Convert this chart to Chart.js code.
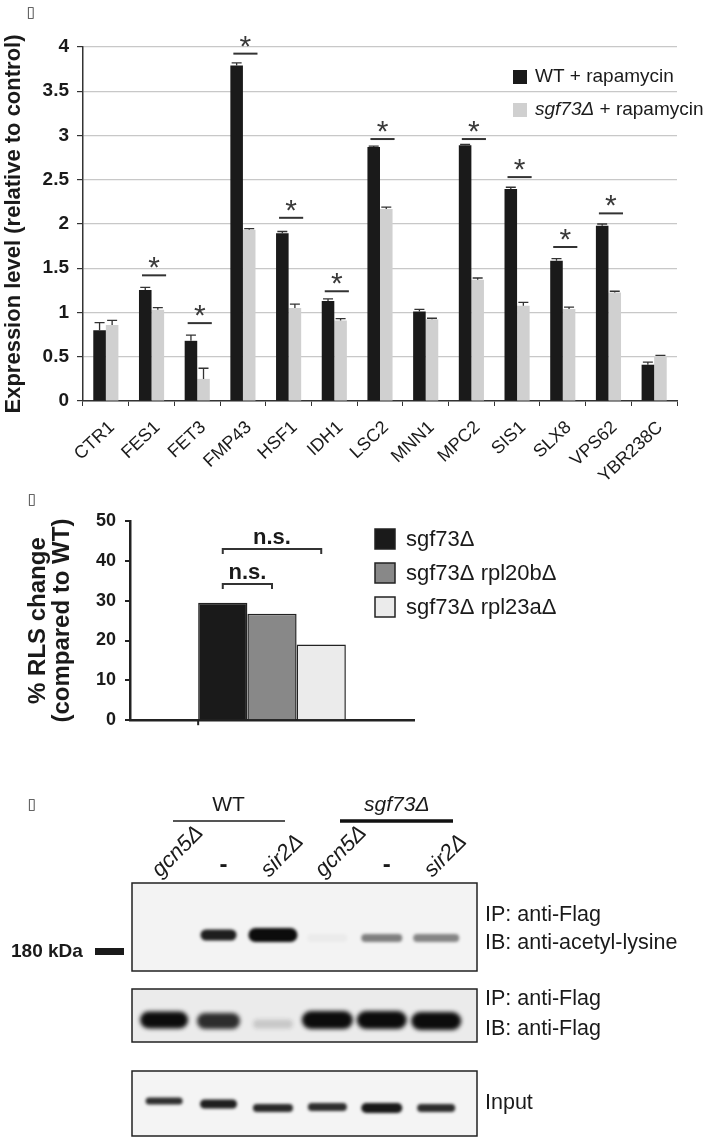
<!DOCTYPE html>
<html>
<script src="https://cdn.jsdelivr.net/npm/chart.js"></script>
<style type="text/css">
  body { margin: 0; background: #fff; }
  .panel { position: absolute; left: 0; width: 709px; }
</style>
<body>
  <div class="panel" style="top:0px;height:480px"><canvas id="chartA" width="709" height="480"></canvas></div>
  <div class="panel" style="top:480px;height:260px"><canvas id="chartB" width="709" height="260"></canvas></div>
  <div class="panel" style="top:740px;height:397px"><canvas id="chartC" width="709" height="397"></canvas></div>

  <script>
    // panel A - expression after rapamycin
    const genes = ['CTR1', 'FES1', 'FET3', 'FMP43', 'HSF1', 'IDH1', 'LSC2', 'MNN1', 'MPC2', 'SIS1', 'SLX8', 'VPS62', 'YBR238C'];
    const wtRapa  = [0.80, 1.255, 0.68, 3.79, 1.895, 1.13, 2.87, 1.01, 2.89, 2.395, 1.585, 1.98, 0.41];
    const wtErr   = [0.085, 0.03, 0.065, 0.03, 0.02, 0.025, 0.01, 0.025, 0.01, 0.02, 0.023, 0.02, 0.03];
    const sgfRapa = [0.86, 1.03, 0.25, 1.935, 1.05, 0.91, 2.17, 0.925, 1.37, 1.075, 1.04, 1.225, 0.51];
    const sgfErr  = [0.05, 0.025, 0.12, 0.012, 0.045, 0.02, 0.02, 0.01, 0.02, 0.04, 0.02, 0.015, 0.005];
    const sigLevel = [null, 1.42, 0.88, 3.925, 2.07, 1.24, 2.96, null, 2.96, 2.53, 1.74, 2.12, null];

    // panel B - RLS change
    const strains = ['sgf73Δ', 'sgf73Δ rpl20bΔ', 'sgf73Δ rpl23aΔ'];
    const rlsChange = [29.5, 26.7, 19.0];
    const nsBrackets = [{from: 0, to: 2, level: 43.0}, {from: 0, to: 1, level: 34.2}];

    // panel C - blots (lanes and relative band signal)
    const lanes = [1, 2, 3, 4, 5, 6];
    const laneNames = ['gcn5Δ', '-', 'sir2Δ', 'gcn5Δ', '-', 'sir2Δ'];
    const acetylSignal = [0, 0.92, 1.0, 0.03, 0.5, 0.48];
    const flagSignal = [1.0, 0.85, 0.16, 1.0, 1.0, 1.0];
    const inputSignal = [0.85, 0.92, 0.88, 0.86, 0.95, 0.86];

    const FONT = '"Liberation Sans", Arial, sans-serif';
    Chart.defaults.font.family = FONT;
    Chart.defaults.color = '#1a1a1a';

    function panelTag(ctx, x, y) {
      ctx.save();
      ctx.font = '15px "DejaVu Sans"';
      ctx.fillStyle = '#333';
      ctx.textAlign = 'center';
      ctx.textBaseline = 'middle';
      ctx.fillText('▯', x, y);
      ctx.restore();
    }

    // ---------- A ----------
    const extrasA = {
      id: 'extrasA',
      afterDatasetsDraw(chart) {
        const ctx = chart.ctx;
        const ys = chart.scales.y;
        const errs = [wtErr, sgfErr];
        const vals = [wtRapa, sgfRapa];
        ctx.save();
        ctx.strokeStyle = '#333';
        ctx.lineWidth = 1.3;
        for (let d = 0; d < 2; d++) {
          chart.getDatasetMeta(d).data.forEach((bar, i) => {
            const yTop = ys.getPixelForValue(vals[d][i] + errs[d][i]);
            ctx.beginPath();
            ctx.moveTo(bar.x, bar.y);
            ctx.lineTo(bar.x, yTop);
            ctx.moveTo(bar.x - 5, yTop);
            ctx.lineTo(bar.x + 5, yTop);
            ctx.stroke();
          });
        }
        // significance lines
        const m0 = chart.getDatasetMeta(0).data, m1 = chart.getDatasetMeta(1).data;
        ctx.lineWidth = 2;
        ctx.fillStyle = '#3a3a3a';
        ctx.textAlign = 'center';
        ctx.textBaseline = 'alphabetic';
        ctx.font = '30px ' + FONT;
        sigLevel.forEach((lv, i) => {
          if (lv === null) return;
          const x0 = m0[i].x - m0[i].width / 2 + 3;
          const x1 = m1[i].x + m1[i].width / 2 + 2;
          const y = ys.getPixelForValue(lv);
          ctx.beginPath();
          ctx.moveTo(x0, y);
          ctx.lineTo(x1, y);
          ctx.stroke();
          ctx.fillText('*', (x0 + x1) / 2, y + 2);
        });
        ctx.restore();
      },
      afterDraw(chart) {
        const ctx = chart.ctx;
        ctx.save();
        ctx.textBaseline = 'middle';
        ctx.textAlign = 'left';
        ctx.fillStyle = '#1a1a1a';
        ctx.fillRect(513, 70, 14, 14);
        ctx.fillStyle = '#d0d0d0';
        ctx.fillRect(513, 103, 14, 14);
        ctx.fillStyle = '#1a1a1a';
        ctx.font = '19px ' + FONT;
        ctx.fillText('WT + rapamycin', 535, 77);
        ctx.font = 'italic 19px ' + FONT;
        ctx.fillText('sgf73Δ', 535, 110);
        const w = ctx.measureText('sgf73Δ').width;
        ctx.font = '19px ' + FONT;
        ctx.fillText(' + rapamycin', 535 + w, 110);
        ctx.restore();
        panelTag(ctx, 31, 13);
      }
    };

    new Chart(document.getElementById('chartA'), {
      type: 'bar',
      data: {
        labels: genes,
        datasets: [
          {label: 'WT + rapamycin', data: wtRapa, backgroundColor: '#1a1a1a'},
          {label: 'sgf73Δ + rapamycin', data: sgfRapa, backgroundColor: '#d0d0d0'}
        ]
      },
      options: {
        responsive: false,
        animation: false,
        categoryPercentage: 0.55,
        barPercentage: 1.0,
        layout: {padding: {left: 0, top: 47, right: 32, bottom: 0}},
        plugins: {legend: {display: false}, tooltip: {enabled: false}},
        scales: {
          x: {
            afterFit: s => { s.height = 79; },
            border: {color: '#333', width: 1.5},
            grid: {drawOnChartArea: false, drawTicks: true, tickLength: 5, tickColor: '#333'},
            ticks: {minRotation: 43, maxRotation: 43, autoSkip: false, padding: 11, labelOffset: 6,
                    font: {size: 18}, color: '#1a1a1a'}
          },
          y: {
            min: 0, max: 4,
            afterFit: s => { s.width = 83; },
            border: {color: '#333', width: 1.5},
            grid: {color: '#c8c8c8', lineWidth: 1.2, tickLength: 6, tickColor: '#333'},
            ticks: {stepSize: 0.5, padding: 8, font: {size: 19, weight: 'bold'}, color: '#1a1a1a',
                    callback: v => String(v)},
            title: {display: true, text: 'Expression level (relative to control)',
                    font: {size: 22, weight: 'bold'}, color: '#1a1a1a', padding: {top: 1, bottom: 0}}
          }
        }
      },
      plugins: [extrasA]
    });

    // ---------- B ----------
    const fillsB = ['#1a1a1a', '#888888', '#ebebeb'];
    const extrasB = {
      id: 'extrasB',
      afterDraw(chart) {
        const ctx = chart.ctx;
        const ys = chart.scales.y;
        ctx.save();
        ctx.strokeStyle = '#333';
        ctx.fillStyle = '#1a1a1a';
        ctx.lineWidth = 2;
        ctx.textAlign = 'center';
        ctx.textBaseline = 'middle';
        ctx.font = 'bold 22px ' + FONT;
        nsBrackets.forEach(b => {
          const x0 = chart.getDatasetMeta(b.from).data[0].x;
          const x1 = chart.getDatasetMeta(b.to).data[0].x;
          const y = ys.getPixelForValue(b.level);
          ctx.beginPath();
          ctx.moveTo(x0, y + 5);
          ctx.lineTo(x0, y);
          ctx.lineTo(x1, y);
          ctx.lineTo(x1, y + 5);
          ctx.stroke();
          ctx.fillText('n.s.', (x0 + x1) / 2, y - 11);
        });
        // small tick at the start of the bar group
        const first = chart.getDatasetMeta(0).data[0];
        const yb = chart.chartArea.bottom;
        ctx.strokeStyle = '#222';
        ctx.beginPath();
        ctx.moveTo(first.x - first.width / 2, yb);
        ctx.lineTo(first.x - first.width / 2, yb + 5);
        ctx.stroke();
        // legend
        ctx.textAlign = 'left';
        ctx.font = '22px ' + FONT;
        ctx.lineWidth = 1.5;
        strains.forEach((s, i) => {
          const y = 49 + i * 34;
          ctx.fillStyle = fillsB[i];
          ctx.fillRect(375, y, 20, 20);
          ctx.strokeStyle = '#222';
          ctx.strokeRect(375, y, 20, 20);
          ctx.fillStyle = '#1a1a1a';
          ctx.fillText(s, 406, y + 11);
        });
        ctx.restore();
        panelTag(ctx, 32, 20);
      }
    };

    new Chart(document.getElementById('chartB'), {
      type: 'bar',
      data: {
        labels: [''],
        datasets: strains.map((s, i) => ({
          label: s, data: [rlsChange[i]], backgroundColor: fillsB[i],
          borderColor: '#222', borderWidth: 1.5, borderSkipped: 'bottom'
        }))
      },
      options: {
        responsive: false,
        animation: false,
        categoryPercentage: 0.52,
        barPercentage: 1.0,
        layout: {padding: {left: 0, top: 41, right: 295, bottom: 0}},
        plugins: {legend: {display: false}, tooltip: {enabled: false}},
        scales: {
          x: {
            afterFit: s => { s.height = 4; },
            border: {color: '#222', width: 2.5},
            grid: {display: false},
            ticks: {display: false}
          },
          y: {
            min: 0, max: 50,
            afterFit: s => { s.width = 130; },
            border: {color: '#222', width: 2.5},
            grid: {drawOnChartArea: false, tickLength: 5, tickColor: '#222', lineWidth: 2},
            ticks: {stepSize: 10, padding: 9, font: {size: 18, weight: 'bold'}, color: '#1a1a1a'},
            title: {display: true, text: ['% RLS change', '(compared to WT)'],
                    font: {size: 24, weight: 'bold', lineHeight: 1.0}, color: '#1a1a1a',
                    padding: {top: 26, bottom: 0}}
          }
        }
      },
      plugins: [extrasB]
    });

    // ---------- C ----------
    const blots = [
      {top: 143, bottom: 231, bg: '#f3f3f3', signal: acetylSignal,
       cy: [195, 195, 195, 198, 198, 198], h: [10, 11, 14, 8, 8, 8], w: [40, 36, 49, 40, 41, 46], blur: 1.6},
      {top: 249, bottom: 302, bg: '#ebebeb', signal: flagSignal,
       cy: [280, 281, 284, 280, 280, 281], h: [17, 16, 9, 18, 18, 18], w: [48, 43, 40, 51, 50, 50], blur: 2.2},
      {top: 331, bottom: 396, bg: '#f4f4f4', signal: inputSignal,
       cy: [361, 364, 368, 367, 368, 368], h: [7, 9, 8, 8, 10, 8], w: [37, 37, 40, 39, 41, 38], blur: 1.4}
    ];
    const sideLabels = [
      ['IP: anti-Flag', 175], ['IB: anti-acetyl-lysine', 203],
      ['IP: anti-Flag', 259], ['IB: anti-Flag', 289], ['Input', 363]
    ];

    const blotPlugin = {
      id: 'blotPlugin',
      afterDraw(chart) {
        const ctx = chart.ctx;
        const xs = chart.scales.x;
        const area = chart.chartArea;
        ctx.save();
        blots.forEach(b => {
          ctx.save();
          ctx.beginPath();
          ctx.rect(area.left, b.top, area.right - area.left, b.bottom - b.top);
          ctx.clip();
          ctx.fillStyle = b.bg;
          ctx.fillRect(area.left, b.top, area.right - area.left, b.bottom - b.top);
          lanes.forEach((ln, i) => {
            const a = b.signal[i];
            if (a <= 0) return;
            const cx = xs.getPixelForValue(ln);
            ctx.save();
            ctx.filter = 'blur(' + b.blur + 'px)';
            ctx.fillStyle = 'rgba(12,12,12,' + a + ')';
            ctx.beginPath();
            const w = b.w[i], h = b.h[i];
            if (ctx.roundRect) ctx.roundRect(cx - w / 2, b.cy[i] - h / 2, w, h, h / 2);
            else ctx.rect(cx - w / 2, b.cy[i] - h / 2, w, h);
            ctx.fill();
            ctx.restore();
          });
          ctx.restore();
          ctx.strokeStyle = '#222';
          ctx.lineWidth = 1.5;
          ctx.strokeRect(area.left, b.top, area.right - area.left, b.bottom - b.top);
        });

        // strain headers
        ctx.fillStyle = '#1a1a1a';
        ctx.textAlign = 'center';
        ctx.textBaseline = 'middle';
        ctx.font = '21px ' + FONT;
        ctx.fillText('WT', (xs.getPixelForValue(1) + xs.getPixelForValue(3)) / 2 + 10, 65);
        ctx.font = 'italic 21px ' + FONT;
        ctx.fillText('sgf73Δ', (xs.getPixelForValue(4) + xs.getPixelForValue(6)) / 2 + 15, 65);
        ctx.strokeStyle = '#555';
        ctx.lineWidth = 2;
        ctx.beginPath(); ctx.moveTo(173, 81); ctx.lineTo(285, 81); ctx.stroke();
        ctx.strokeStyle = '#111';
        ctx.lineWidth = 3.5;
        ctx.beginPath(); ctx.moveTo(340, 81); ctx.lineTo(453, 81); ctx.stroke();

        // lane names
        lanes.forEach((ln, i) => {
          const x = xs.getPixelForValue(ln);
          if (laneNames[i] === '-') {
            ctx.font = 'bold 24px ' + FONT;
            ctx.textAlign = 'center';
            ctx.fillText('-', x + 5, 125);
            return;
          }
          ctx.save();
          ctx.translate(x - 4, 138);
          ctx.rotate(-Math.PI / 4);
          ctx.font = 'italic 22px ' + FONT;
          ctx.textAlign = 'left';
          ctx.textBaseline = 'alphabetic';
          ctx.fillText(laneNames[i], 0, 0);
          ctx.restore();
        });

        // marker and side labels
        ctx.font = 'bold 19px ' + FONT;
        ctx.textAlign = 'left';
        ctx.fillText('180 kDa', 11, 212);
        ctx.fillRect(95, 208, 29, 7);
        ctx.font = '21.5px ' + FONT;
        sideLabels.forEach(([t, y]) => ctx.fillText(t, 485, y));
        ctx.restore();
        panelTag(ctx, 32, 65);
      }
    };

    new Chart(document.getElementById('chartC'), {
      type: 'scatter',
      data: {datasets: [{data: lanes.map(l => ({x: l, y: 0})), pointRadius: 0}]},
      options: {
        responsive: false,
        animation: false,
        layout: {padding: {left: 132, top: 143, right: 232, bottom: 1}},
        plugins: {legend: {display: false}, tooltip: {enabled: false}},
        scales: {
          x: {type: 'linear', min: 0.41, max: 6.75, display: false},
          y: {min: 0, max: 1, display: false}
        }
      },
      plugins: [blotPlugin]
    });
  </script>
</body>
</html>
